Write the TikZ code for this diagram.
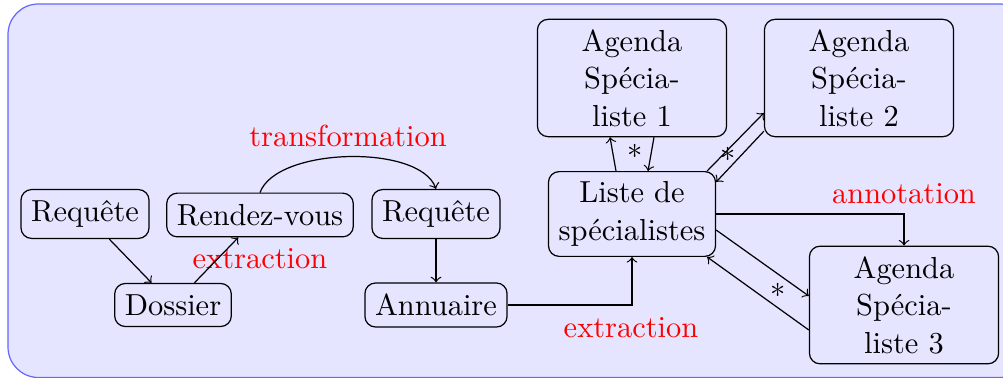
\documentclass[tikz,border=0pt]{standalone}
\usetikzlibrary{calc}
\begin{document}
\begin{tikzpicture}[x=0.3285pt,y=-0.3285pt,
  box/.style={draw, rounded corners=3.5pt, fill=blue!10, inner xsep=0.3333em, inner ysep=0.36em},
  multi/.style={box, inner ysep=0.3333em, align=center, font={\fontsize{10}{12.3}\selectfont}},
  agenda/.style={multi, text width=1.95cm},
  lbl/.style={text=red},
  star/.style={inner sep=0pt},
  arr/.style={->, black}]
\useasboundingbox (0,0) rectangle (1003,378);
\begin{scope}
\clip (0,0) rectangle (1003,378);
\draw[blue!60, fill=blue!10, rounded corners=10pt] (8,4) rectangle (1030,377.5);
\end{scope}
\node[box] (req1) at (85,214) {Requête};
\node[box] (rdv) at (260,215) {Rendez-vous};
\node[box] (req2) at (436,214) {Requête};
\node[box] (dos) at (173,305) {Dossier};
\node[box] (ann) at (436,305) {Annuaire};
\node[multi] (liste) at (632,214) {Liste de\\spécialistes};
\node[agenda] (ag1) at (632,78) {Agenda\\Spécia-\\liste 1};
\node[agenda] (ag2) at (859,78) {Agenda\\Spécia-\\liste 2};
\node[agenda] (ag3) at (904,305) {Agenda\\Spécia-\\liste 3};
\node[lbl] (ltrans) at (348,136) {transformation};
\node[lbl] (lext1) at (260,259) {extraction};
\node[lbl] (lext2) at (631,328) {extraction};
\node[lbl] (lann) at (904,194) {annotation};
\draw[arr] (req1) -- (dos);
\draw[arr] (dos) -- (rdv);
\draw[arr] (rdv.north) to[out=70, in=110, looseness=0.7] (req2.north);
\draw[arr] (req2) -- (ann);
\draw[arr] (ann.east) -| (liste.south);
\draw[arr] ($(liste.north)+(-16,0)$) -- ($(ag1.south)+(-22,0)$);
\draw[arr] ($(ag1.south)+(22,0)$) -- ($(liste.north)+(16,0)$);
\node[star] (s1) at (635,151) {$*$};
\draw[arr] ($(liste.north east)+(-9,0)$) -- ($(ag2.west)+(0,35)$);
\draw[arr] ($(ag2.south west)+(0,-6)$) -- ($(liste.north east)+(0,11)$);
\node[star] (s2) at (728,154) {$*$};
\draw[arr] (liste.east) -| (ag3.north);
\draw[arr] ($(liste.east)+(0,16)$) -- ($(ag3.west)+(0,-9)$);
\draw[arr] ($(ag3.west)+(0,25)$) -- ($(liste.south east)+(-9,0)$);
\node[star] (s3) at (778,290) {$*$};
\end{tikzpicture}
\end{document}
